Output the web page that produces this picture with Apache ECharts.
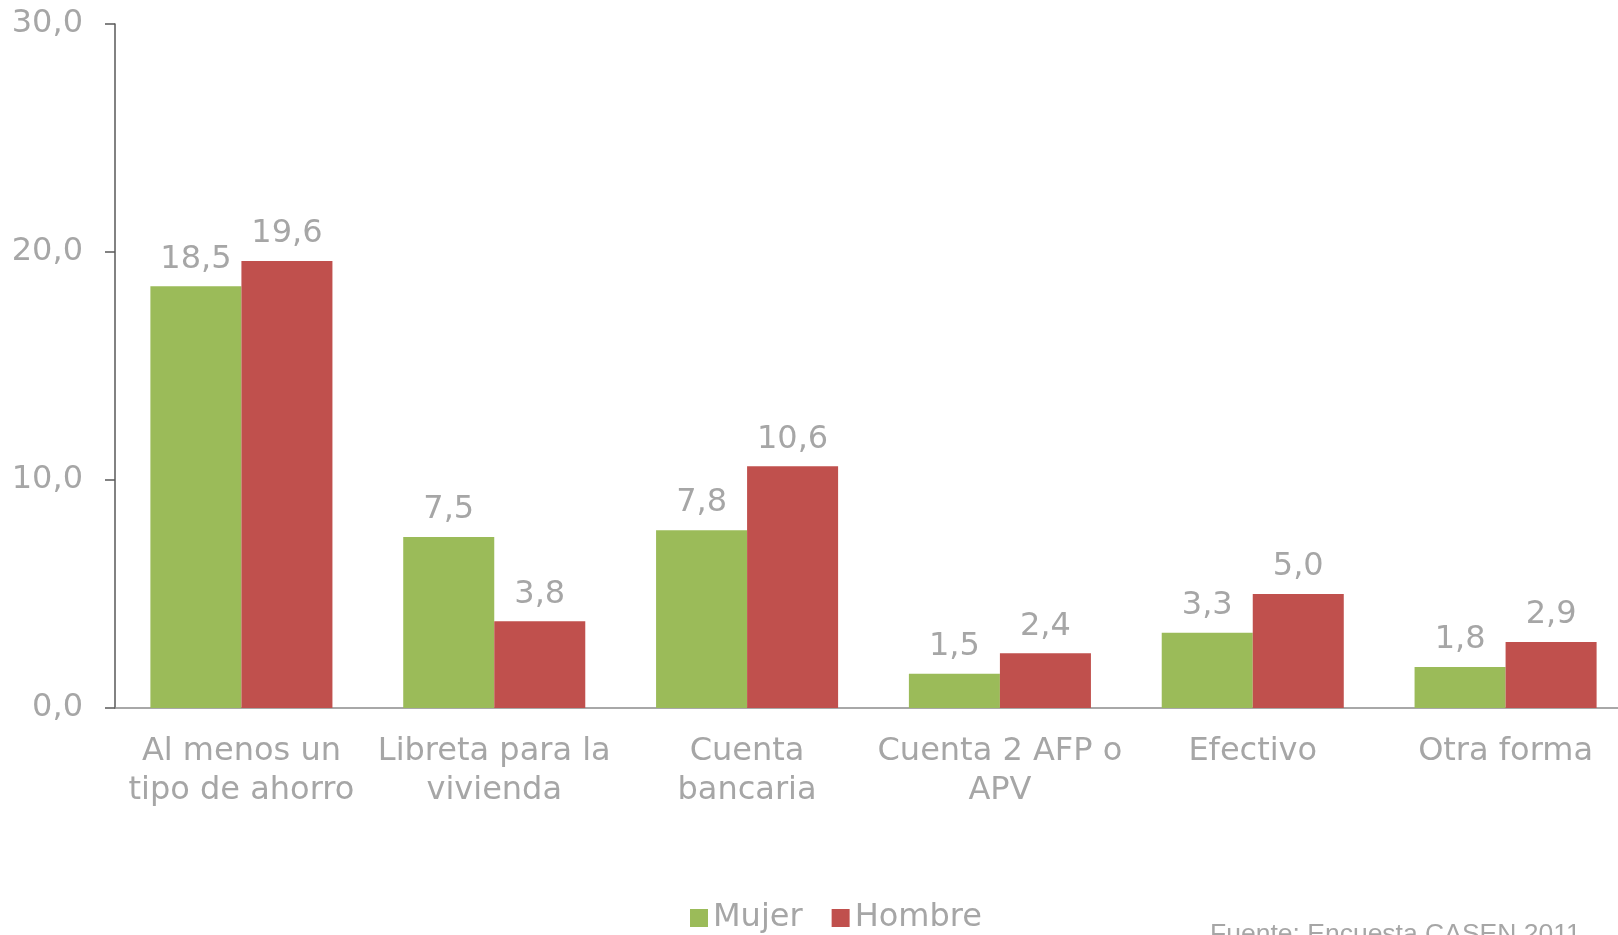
<!DOCTYPE html>
<html>
<head>
<meta charset="utf-8">
<script src="https://cdn.jsdelivr.net/npm/echarts@6/dist/echarts.min.js"></script>
<style>
  html, body { margin: 0; padding: 0; background: #fff; }
  #chart { width: 1618px; height: 935px; }
</style>
</head>
<body>
<div id="chart"></div>
<script>
  // categorias (con salto de linea como en el original)
  let categories = ["Al menos un\ntipo de ahorro", "Libreta para la\nvivienda", "Cuenta\nbancaria", "Cuenta 2 AFP o\nAPV", "Efectivo", "Otra forma"]
  let mujer = [18.5, 7.5, 7.8, 1.5, 3.3, 1.8]
  let hombre = [19.6, 3.8, 10.6, 2.4, 5.0, 2.9]
  let yTicks = [0, 10, 20, 30]
  let fuente = "Fuente: Encuesta CASEN 2011"

  let gris = "#a6a6a6"
  let fmt = v => Number(v).toFixed(1).replace('.', ',')

  let myChart = echarts.init(document.getElementById("chart"))
  const option = {
    animation: false,
    // el eje x sigue un poco mas alla del borde derecho
    grid: { left: 115, width: 1517, top: 24, bottom: 227, containLabel: false, outerBoundsMode: "none" },
    legend: {
      data: ["Mujer", "Hombre"],
      left: 685,
      top: 897,
      itemWidth: 18,
      itemHeight: 18,
      itemGap: 29,
      icon: "rect",
      textStyle: { fontFamily: "DejaVu Sans", fontSize: 32, color: gris }
    },
    xAxis: {
      type: "category",
      data: categories,
      axisLine: { lineStyle: { color: "#8c8c8c", width: 1.5 } },
      axisTick: { show: false },
      axisLabel: {
        interval: 0,
        margin: 24,
        fontFamily: "DejaVu Sans",
        fontSize: 32,
        lineHeight: 39,
        color: gris
      }
    },
    yAxis: {
      type: "value",
      min: yTicks[0],
      max: yTicks[yTicks.length - 1],
      interval: 10,
      axisLine: { show: true, lineStyle: { color: "#595959", width: 1.5 } },
      axisTick: { show: true, inside: false, length: 10, lineStyle: { color: "#595959", width: 1.5 } },
      splitLine: { show: false },
      axisLabel: {
        margin: 32,
        fontFamily: "DejaVu Sans",
        fontSize: 32,
        color: gris,
        formatter: v => fmt(v)
      }
    },
    series: [
      {
        name: "Mujer",
        type: "bar",
        data: mujer,
        barGap: "0%",
        barCategoryGap: "28%",
        itemStyle: { color: "#9bbb59" },
        label: {
          show: true, position: "top", distance: 11,
          fontFamily: "DejaVu Sans", fontSize: 32, color: gris,
          formatter: p => fmt(p.value)
        }
      },
      {
        name: "Hombre",
        type: "bar",
        data: hombre,
        barGap: "0%",
        barCategoryGap: "28%",
        itemStyle: { color: "#c0504d" },
        label: {
          show: true, position: "top", distance: 11,
          fontFamily: "DejaVu Sans", fontSize: 32, color: gris,
          formatter: p => fmt(p.value)
        }
      }
    ],
    graphic: [
      {
        type: "text",
        left: 1210,
        top: 921,
        style: { text: fuente, fontFamily: "Liberation Sans", fontSize: 26.5, fill: gris }
      }
    ]
  }
  myChart.setOption(option)
</script>
</body>
</html>
